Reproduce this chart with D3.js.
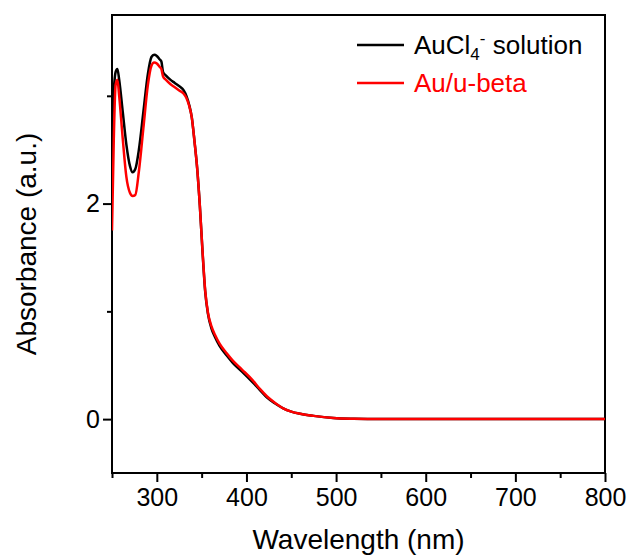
<!DOCTYPE html>
<html><head><meta charset="utf-8">
<script src="https://cdn.jsdelivr.net/npm/d3@7"></script>
<style>
html,body{margin:0;padding:0;background:#fff;}
text{font-family:"Liberation Sans",Arial,sans-serif;}
</style></head>
<body><svg id="chart" width="632" height="558"></svg>
<script>
const wavelengths = [250,252,254,256,258,262,266,270,273,276,280,285,290,294,297,300,303,305,307,310,315,320,325,330,333,336,339,342,345,348,351,354,357,361,365,370,378,385,395,407,415,423,432,441,450,460,475,497,520,550,600,650,700,750,800];
const auCl4 = [2.70,3.05,3.22,3.25,3.15,2.85,2.55,2.35,2.29,2.32,2.50,2.85,3.20,3.36,3.38,3.37,3.34,3.32,3.22,3.19,3.15,3.12,3.09,3.05,3.00,2.92,2.80,2.58,2.33,1.98,1.55,1.18,0.98,0.84,0.76,0.68,0.59,0.52,0.44,0.34,0.27,0.20,0.145,0.10,0.07,0.05,0.03,0.01,0.003,0,0,0,0,0,0];
const auBeta = [1.75,2.60,3.10,3.15,3.00,2.60,2.25,2.10,2.07,2.08,2.30,2.70,3.10,3.28,3.31,3.30,3.27,3.25,3.18,3.15,3.11,3.08,3.05,3.02,2.98,2.91,2.80,2.58,2.33,1.98,1.56,1.19,0.99,0.86,0.78,0.70,0.61,0.54,0.46,0.36,0.28,0.21,0.15,0.10,0.07,0.05,0.03,0.01,0.003,0,0,0,0,0,0];
const xTicks = [300,400,500,600,700,800];
const xMinor = [250,350,450,550,650,750];
const yTicks = [0,2];
const yMinor = [1,3];
const seriesNames = ["AuCl4- solution","Au/u-beta"];
const seriesColors = ["#000000","#ff0000"];

const svg = d3.select("#chart");
const L=112, R=605, T=15, B=473;
const x = d3.scaleLinear().domain([250,800]).range([L,R]);
const y = d3.scaleLinear().domain([-0.5,3.75]).range([B,T]);

// frame
svg.append("rect").attr("x",L).attr("y",T).attr("width",R-L).attr("height",B-T)
  .attr("fill","none").attr("stroke","#000").attr("stroke-width",2);

const xAxis = svg.append("g").attr("transform",`translate(0,${B})`)
  .call(d3.axisBottom(x).tickValues(xTicks).tickSize(9).tickPadding(6));
const xAxisMinor = svg.append("g").attr("transform",`translate(0,${B})`)
  .call(d3.axisBottom(x).tickValues(xMinor).tickSize(5).tickFormat(""));
const yAxis = svg.append("g").attr("transform",`translate(${L},0)`)
  .call(d3.axisLeft(y).tickValues(yTicks).tickFormat(d3.format("d")).tickSize(9).tickPadding(3));
const yAxisMinor = svg.append("g").attr("transform",`translate(${L},0)`)
  .call(d3.axisLeft(y).tickValues(yMinor).tickSize(5).tickFormat(""));
[xAxis,xAxisMinor,yAxis,yAxisMinor].forEach(g=>{
  g.select(".domain").remove();
  g.selectAll("line").attr("stroke","#000").attr("stroke-width",2);
  g.selectAll("text").attr("font-size",25).attr("fill","#000")
   .style("font-family","'Liberation Sans',Arial,sans-serif");
});

const line = d3.line().x((d,i)=>x(wavelengths[i])).y(d=>y(d)).curve(d3.curveMonotoneX);
svg.append("clipPath").attr("id","clip").append("rect")
  .attr("x",L).attr("y",T).attr("width",R-L).attr("height",B-T);
[auCl4,auBeta].forEach((s,k)=>{
  svg.append("path").datum(s).attr("d",line).attr("fill","none")
    .attr("stroke",seriesColors[k]).attr("stroke-width",2.5).attr("clip-path","url(#clip)");
});

// axis titles
svg.append("text").attr("x",(L+R)/2).attr("y",549).attr("text-anchor","middle")
  .attr("font-size",28).text("Wavelength (nm)");
svg.append("text").attr("transform",`translate(36,${(T+B)/2}) rotate(-90)`)
  .attr("text-anchor","middle").attr("font-size",28).text("Absorbance (a.u.)");

// legend
const lg = svg.append("g");
const ly = [45,83];
ly.forEach((yy,k)=>{
  lg.append("line").attr("x1",357).attr("x2",404).attr("y1",yy).attr("y2",yy)
    .attr("stroke",seriesColors[k]).attr("stroke-width",2.5);
});
const t1 = lg.append("text").attr("x",414).attr("y",ly[0]+9).attr("font-size",26).attr("fill",seriesColors[0]);
t1.append("tspan").text("AuCl");
t1.append("tspan").attr("font-size",17).attr("dy",6).text("4");
t1.append("tspan").attr("font-size",17).attr("dy",-16).text("-");
t1.append("tspan").attr("dy",10).text(" solution");
lg.append("text").attr("x",414).attr("y",ly[1]+9).attr("font-size",26).attr("fill",seriesColors[1]).text(seriesNames[1]);
</script></body></html>
